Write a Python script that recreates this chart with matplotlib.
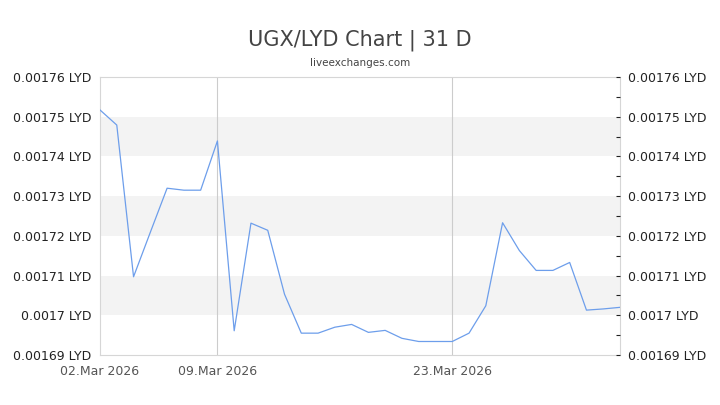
import numpy as np
import pandas as pd
import matplotlib
matplotlib.use("Agg")
import matplotlib.pyplot as plt
import matplotlib.dates as mdates
from matplotlib.ticker import FuncFormatter, MultipleLocator

# Dados (UGX/LYD, 02.Mar 2026 - 02.Apr 2026)
datas = pd.date_range("2026-03-02", periods=32, freq="D")
taxas = [
    0.0017517, 0.0017479, 0.0017097, 0.0017209, 0.0017320, 0.0017315,
    0.0017315, 0.0017439, 0.0016961, 0.0017232, 0.0017214, 0.0017053,
    0.0016955, 0.0016955, 0.0016970, 0.0016977, 0.0016957, 0.0016962,
    0.0016942, 0.0016934, 0.0016934, 0.0016934, 0.0016955, 0.0017024,
    0.0017233, 0.0017163, 0.0017113, 0.0017113, 0.0017133, 0.0017013,
    0.0017016, 0.0017020,
]
faixas = [(0.00170, 0.00171), (0.00172, 0.00173), (0.00174, 0.00175)]
datas_rotulo = pd.to_datetime(["2026-03-02", "2026-03-09", "2026-03-23"])
linhas_v = pd.to_datetime(["2026-03-09", "2026-03-23"])

y_min, y_max = 0.00169, 0.00176

fig = plt.figure(figsize=(7.2, 4.05), dpi=100)
ax = fig.add_axes([100 / 720, 50 / 405, 520 / 720, 278 / 405])

for lo, hi in faixas:
    ax.axhspan(lo, hi, color="#f3f3f3", lw=0, zorder=0)
for d in linhas_v:
    ax.axvline(d, color="#cccccc", lw=0.8, zorder=1)

ax.plot(datas, taxas, color="#6d9eeb", lw=0.9, zorder=3)

ax.set_xlim(datas[0], datas[-1])
ax.set_ylim(y_min, y_max)

for s in ax.spines.values():
    s.set_color("#d6d6d6")
    s.set_linewidth(0.8)

fmt = FuncFormatter(lambda v, p: f"{v:.5f}".rstrip("0") + " LYD")
ax.yaxis.set_major_locator(MultipleLocator(0.00001))
ax.yaxis.set_major_formatter(fmt)
ax.tick_params(axis="y", length=0, labelsize=9, colors="#222222", pad=6)

# eixo direito com marcas pequenas a cada 0.000005
ax2 = ax.twinx()
ax2.set_ylim(y_min, y_max)
ax2.yaxis.set_major_locator(MultipleLocator(0.00001))
ax2.yaxis.set_minor_locator(MultipleLocator(0.000005))
ax2.yaxis.set_major_formatter(fmt)
ax2.tick_params(axis="y", which="both", direction="in", length=3, width=0.8,
                labelsize=9, colors="#222222", pad=6)
for s in ax2.spines.values():
    s.set_visible(False)

ax.set_xticks(datas_rotulo)
ax.xaxis.set_major_formatter(mdates.DateFormatter("%d.%b %Y"))
ax.tick_params(axis="x", length=0, labelsize=9, colors="#555555", pad=7)

fig.text(0.5, 1 - 40 / 405, "UGX/LYD Chart | 31 D", ha="center", va="center",
         fontsize=15, color="#444444")
fig.text(0.5, 1 - 63 / 405, "liveexchanges.com", ha="center", va="center",
         fontsize=7.5, color="#444444")

fig.savefig("out.png", dpi=100)
